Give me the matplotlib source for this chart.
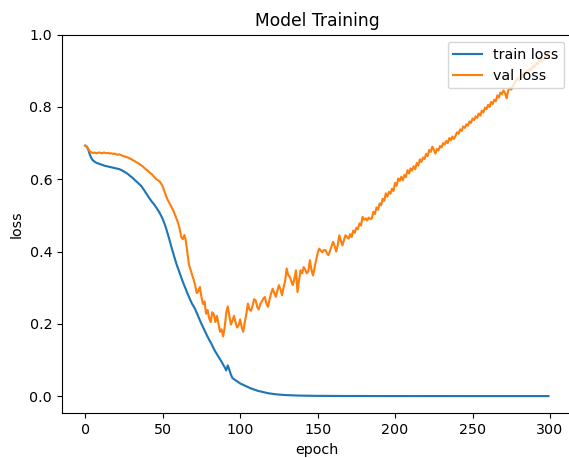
import numpy as np
import matplotlib
matplotlib.use("Agg")
import matplotlib.pyplot as plt

title = "Model Training"
x_label = "epoch"
y_label = "loss"
series_names = ["train loss", "val loss"]

train_loss = [
    0.693, 0.690, 0.682, 0.668, 0.658, 0.652, 0.649, 0.646, 0.644, 0.643,
    0.641, 0.640, 0.638, 0.637, 0.636, 0.635, 0.634, 0.633, 0.632, 0.631,
    0.630, 0.629, 0.628, 0.626, 0.624, 0.621, 0.619, 0.616, 0.613, 0.609,
    0.606, 0.602, 0.598, 0.594, 0.590, 0.586, 0.582, 0.576, 0.570, 0.563,
    0.557, 0.550, 0.544, 0.538, 0.533, 0.527, 0.521, 0.514, 0.507, 0.499,
    0.490, 0.479, 0.467, 0.453, 0.438, 0.422, 0.407, 0.392, 0.378, 0.364,
    0.352, 0.340, 0.328, 0.316, 0.305, 0.295, 0.284, 0.274, 0.264, 0.255,
    0.248, 0.240, 0.230, 0.220, 0.210, 0.200, 0.191, 0.182, 0.173, 0.164,
    0.156, 0.148, 0.140, 0.131, 0.123, 0.116, 0.109, 0.102, 0.095, 0.087,
    0.080, 0.071, 0.085, 0.073, 0.060, 0.050, 0.047, 0.044, 0.041, 0.038,
    0.035, 0.033, 0.031, 0.029, 0.027, 0.025, 0.023, 0.021, 0.020, 0.018,
    0.017, 0.015, 0.014, 0.013, 0.012, 0.011, 0.010, 0.009, 0.008, 0.0075,
    0.0068, 0.0062, 0.0056, 0.0051, 0.0046, 0.0042, 0.0038, 0.0035, 0.0032, 0.0029,
    0.0027, 0.0025, 0.0023, 0.0021, 0.0019, 0.0018, 0.0016, 0.0015, 0.0014, 0.0013,
    0.0012, 0.0011, 0.0010, 0.00095, 0.0009, 0.00085, 0.0008, 0.00075, 0.0007, 0.00066,
    0.00062, 0.00058, 0.00055, 0.00052, 0.00049, 0.00046, 0.00043, 0.00041, 0.00039, 0.00037,
    0.00035, 0.00033, 0.00031, 0.00029, 0.00028, 0.00026, 0.00025, 0.00024, 0.00022, 0.00021,
    0.0002, 0.00019, 0.00018, 0.00017, 0.00016, 0.00015, 0.00014, 0.00014, 0.00013, 0.00012,
    0.00012, 0.00011, 0.00011, 0.0001, 0.0001, 9.5e-5, 9.0e-5, 8.6e-5, 8.2e-5, 7.8e-5,
    7.4e-5, 7.0e-5, 6.7e-5, 6.4e-5, 6.1e-5, 5.8e-5, 5.5e-5, 5.2e-5, 5.0e-5, 4.8e-5,
    4.6e-5, 4.4e-5, 4.2e-5, 4.1e-5, 3.9e-5, 3.8e-5, 3.6e-5, 3.5e-5, 3.4e-5, 3.3e-5,
    3.2e-5, 3.1e-5, 3.0e-5, 2.9e-5, 2.8e-5, 2.7e-5, 2.6e-5, 2.6e-5, 2.5e-5, 2.4e-5,
    2.4e-5, 2.3e-5, 2.2e-5, 2.2e-5, 2.1e-5, 2.1e-5, 2.0e-5, 2.0e-5, 1.9e-5, 1.9e-5,
    1.8e-5, 1.8e-5, 1.7e-5, 1.7e-5, 1.7e-5, 1.6e-5, 1.6e-5, 1.5e-5, 1.5e-5, 1.5e-5,
    1.4e-5, 1.4e-5, 1.4e-5, 1.3e-5, 1.3e-5, 1.3e-5, 1.2e-5, 1.2e-5, 1.2e-5, 1.2e-5,
    1.1e-5, 1.1e-5, 1.1e-5, 1.1e-5, 1.0e-5, 1.0e-5, 1.0e-5, 9.8e-6, 9.6e-6, 9.4e-6,
    9.2e-6, 9.0e-6, 8.8e-6, 8.6e-6, 8.4e-6, 8.2e-6, 8.0e-6, 7.9e-6, 7.7e-6, 7.6e-6,
    7.4e-6, 7.3e-6, 7.1e-6, 7.0e-6, 6.9e-6, 6.7e-6, 6.6e-6, 6.5e-6, 6.4e-6, 6.3e-6,
    6.1e-6, 6.0e-6, 5.9e-6, 5.8e-6, 5.7e-6, 5.6e-6, 5.5e-6, 5.4e-6, 5.3e-6, 5.2e-6,
    5.1e-6, 5.0e-6, 4.9e-6, 4.9e-6, 4.8e-6, 4.7e-6, 4.6e-6, 4.5e-6, 4.5e-6, 4.4e-6,
]

val_loss = [
    0.693, 0.690, 0.684, 0.677, 0.674, 0.673, 0.674, 0.672, 0.673, 0.674,
    0.673, 0.672, 0.674, 0.673, 0.672, 0.673, 0.671, 0.672, 0.670, 0.671,
    0.669, 0.668, 0.669, 0.667, 0.665, 0.664, 0.662, 0.661, 0.659, 0.657,
    0.655, 0.652, 0.650, 0.647, 0.645, 0.642, 0.639, 0.636, 0.632, 0.628,
    0.625, 0.621, 0.617, 0.614, 0.609, 0.604, 0.600, 0.597, 0.594, 0.588,
    0.580, 0.568, 0.556, 0.545, 0.537, 0.529, 0.520, 0.512, 0.501, 0.490,
    0.478, 0.462, 0.440, 0.434, 0.446, 0.428, 0.395, 0.362, 0.350, 0.335,
    0.322, 0.305, 0.285, 0.290, 0.302, 0.275, 0.255, 0.262, 0.228, 0.238,
    0.215, 0.205, 0.232, 0.226, 0.205, 0.222, 0.200, 0.178, 0.185, 0.165,
    0.190, 0.230, 0.248, 0.222, 0.198, 0.208, 0.222, 0.205, 0.190, 0.196,
    0.212, 0.190, 0.178, 0.205, 0.228, 0.256, 0.240, 0.236, 0.250, 0.268,
    0.265, 0.247, 0.240, 0.255, 0.262, 0.270, 0.274, 0.255, 0.247, 0.268,
    0.285, 0.297, 0.285, 0.275, 0.292, 0.307, 0.296, 0.279, 0.300, 0.318,
    0.353, 0.335, 0.330, 0.318, 0.307, 0.325, 0.348, 0.288, 0.320, 0.348,
    0.340, 0.357, 0.350, 0.340, 0.345, 0.376, 0.350, 0.334, 0.355, 0.376,
    0.395, 0.408, 0.403, 0.398, 0.404, 0.404, 0.395, 0.390, 0.402, 0.415,
    0.427, 0.415, 0.400, 0.418, 0.445, 0.430, 0.417, 0.432, 0.445, 0.440,
    0.436, 0.448, 0.440, 0.458, 0.452, 0.466, 0.462, 0.478, 0.472, 0.496,
    0.488, 0.492, 0.486, 0.494, 0.490, 0.492, 0.510, 0.504, 0.522, 0.516,
    0.533, 0.528, 0.546, 0.540, 0.561, 0.552, 0.565, 0.560, 0.574, 0.568,
    0.590, 0.582, 0.602, 0.596, 0.607, 0.597, 0.612, 0.606, 0.625, 0.616,
    0.630, 0.624, 0.636, 0.628, 0.645, 0.638, 0.655, 0.648, 0.660, 0.656,
    0.670, 0.664, 0.681, 0.676, 0.690, 0.682, 0.671, 0.684, 0.680, 0.692,
    0.688, 0.700, 0.696, 0.706, 0.700, 0.714, 0.708, 0.718, 0.712, 0.720,
    0.730, 0.726, 0.738, 0.734, 0.746, 0.742, 0.752, 0.748, 0.760, 0.756,
    0.768, 0.764, 0.774, 0.770, 0.782, 0.776, 0.790, 0.785, 0.798, 0.794,
    0.806, 0.800, 0.814, 0.808, 0.820, 0.816, 0.832, 0.826, 0.840, 0.836,
    0.846, 0.838, 0.824, 0.846, 0.852, 0.848, 0.858, 0.864, 0.872, 0.880,
    0.874, 0.886, 0.882, 0.894, 0.888, 0.900, 0.896, 0.906, 0.902, 0.914,
    0.910, 0.922, 0.918, 0.930, 0.926, 0.936, 0.932, 0.944, 0.942, 0.952,
]

epochs = np.arange(len(train_loss))

fs = 10.3
fig = plt.figure(figsize=(5.69, 4.58), dpi=100)
ax = fig.add_axes([0.1091, 0.0976, 0.8955, 0.8266])
lw = 1.54
ax.plot(epochs, train_loss, color="#1f77b4", lw=lw, label=series_names[0])
ax.plot(np.arange(len(val_loss)), val_loss, color="#ff7f0e", lw=lw, label=series_names[1])
ax.set_title(title, fontsize=12.3, pad=6.2)
ax.set_xlabel(x_label, fontsize=fs, labelpad=4)
ax.set_ylabel(y_label, fontsize=fs, labelpad=4)
ax.tick_params(labelsize=fs, length=3.6)
ax.set_xticks([0, 50, 100, 150, 200, 250, 300])
ax.set_yticks([0.0, 0.2, 0.4, 0.6, 0.8, 1.0])
ax.legend(loc="upper right", fontsize=fs)
fig.savefig("out.png", dpi=100)
